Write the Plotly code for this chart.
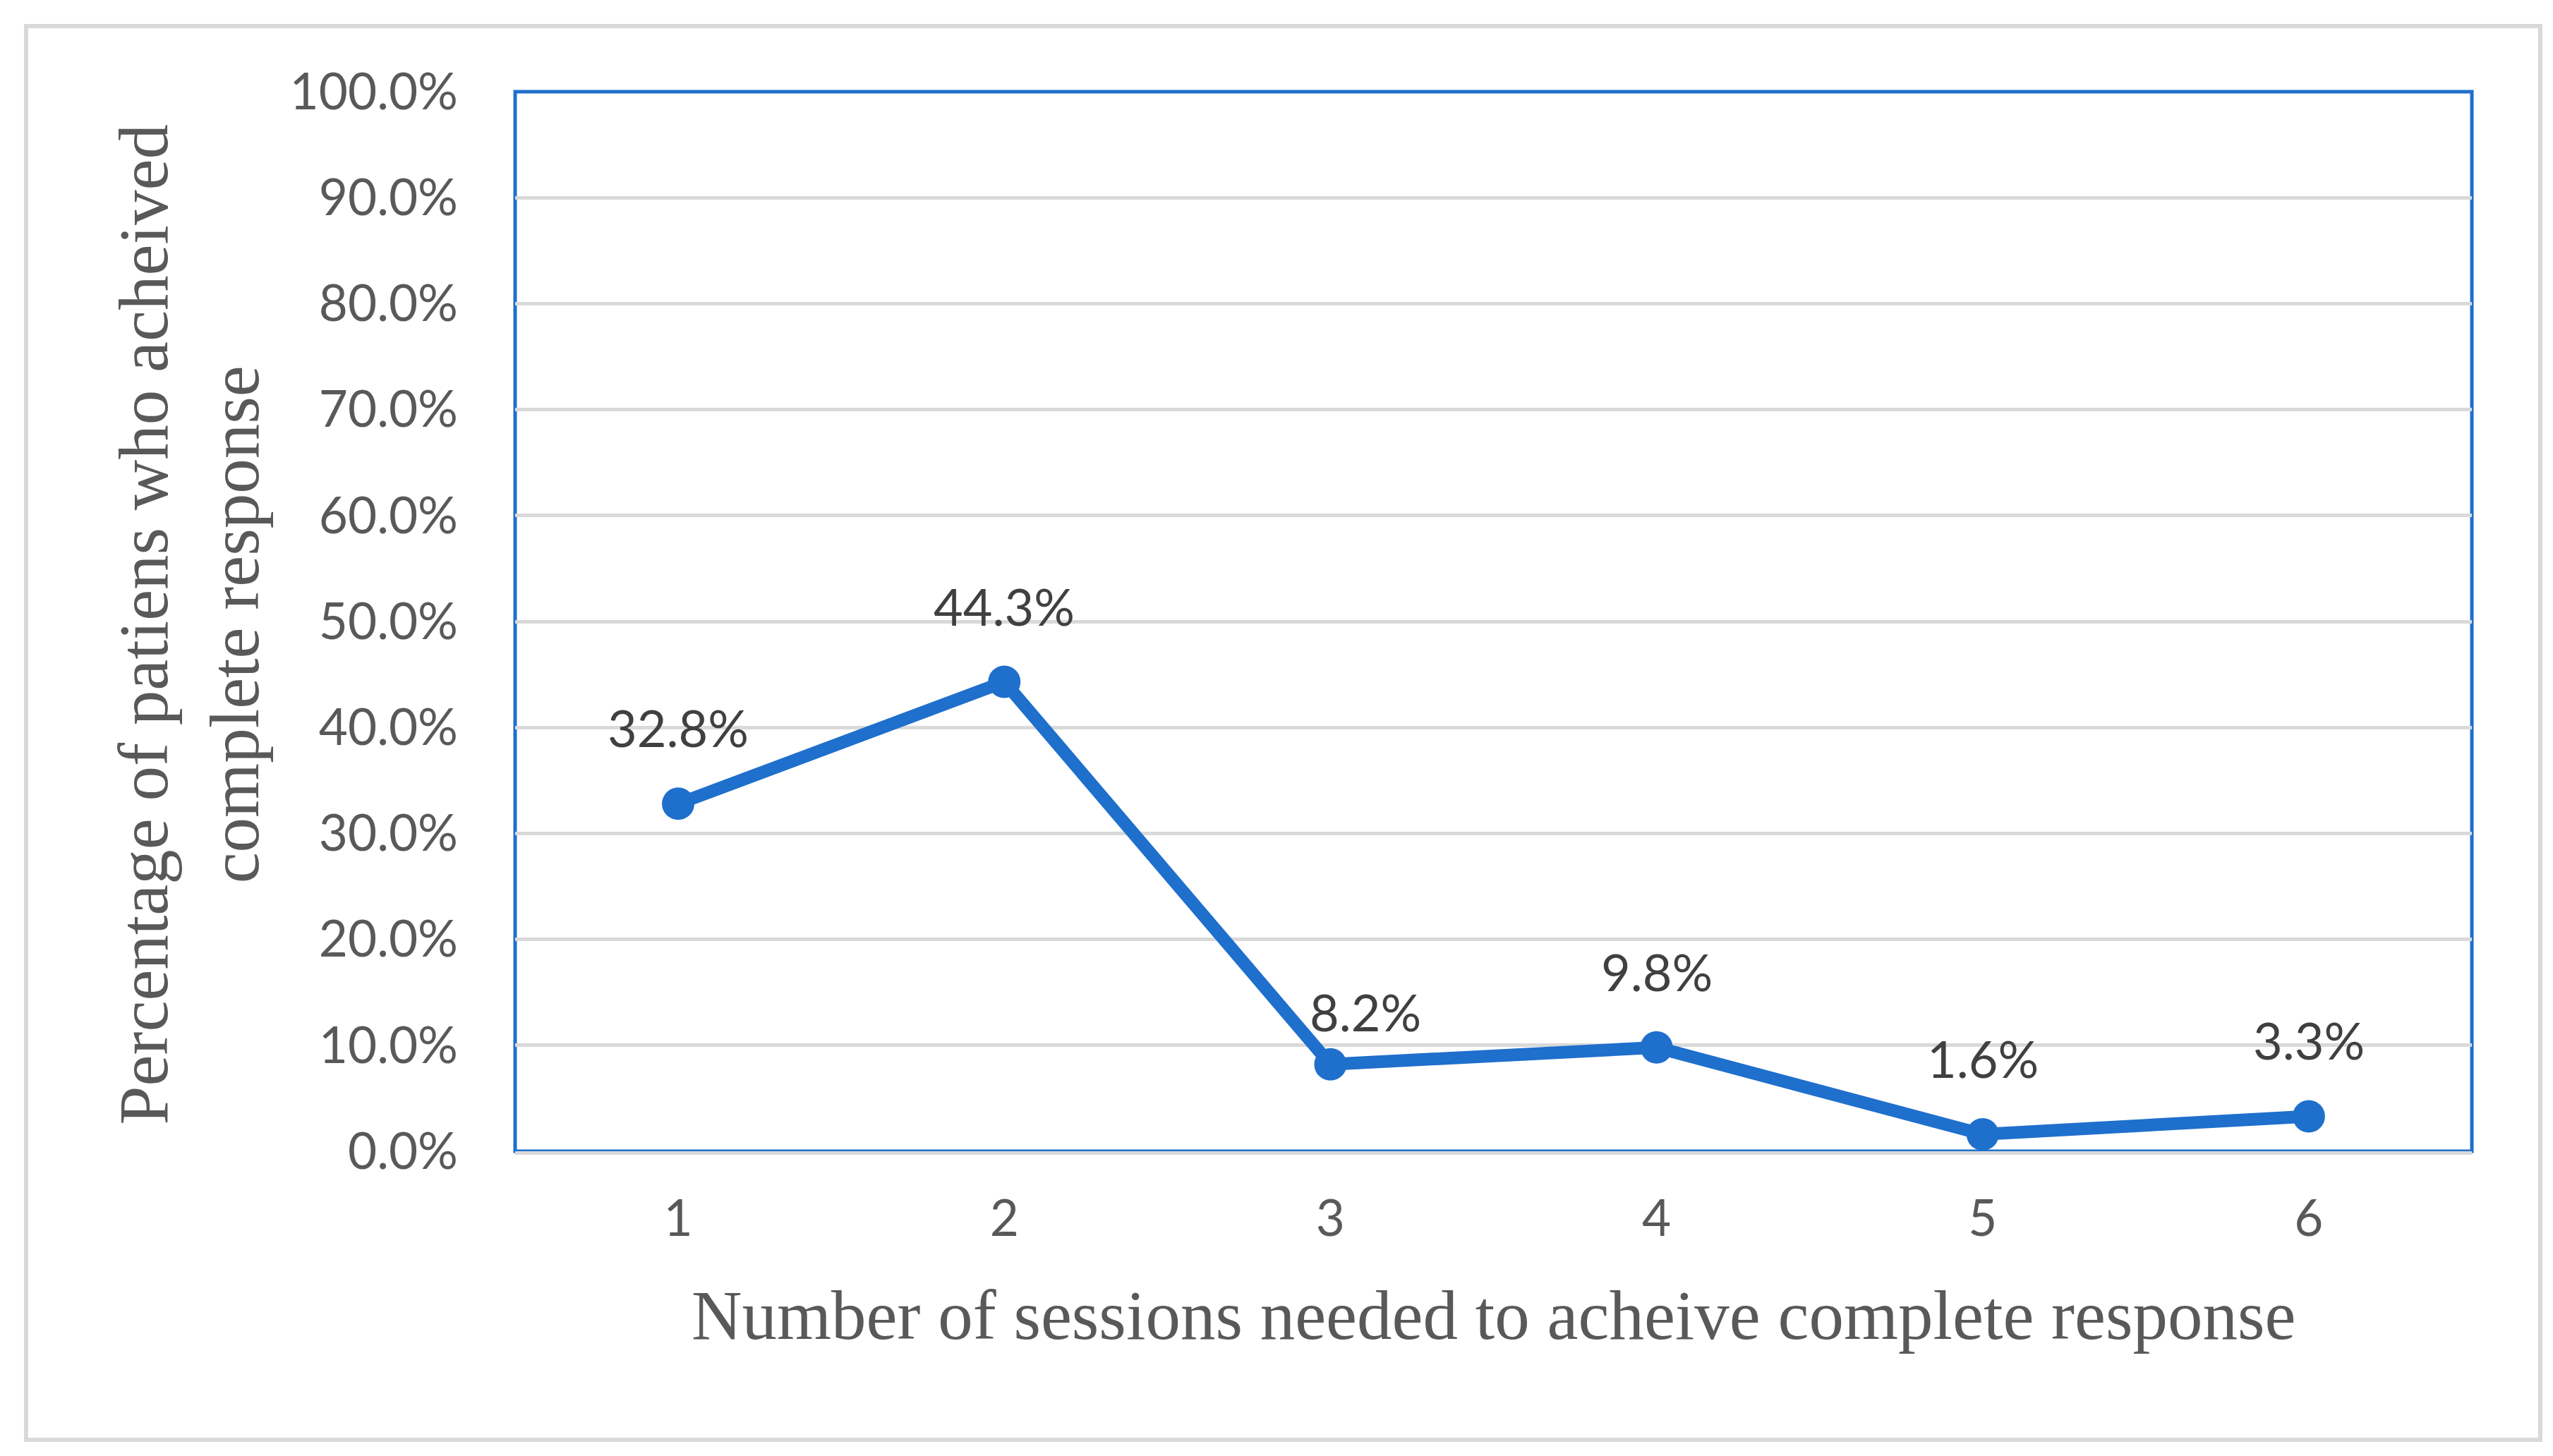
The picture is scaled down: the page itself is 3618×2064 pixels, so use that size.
import plotly.graph_objects as go

# ---- data ----
sessions = ["1", "2", "3", "4", "5", "6"]
percent_cr = [32.8, 44.3, 8.2, 9.8, 1.6, 3.3]
label_text = ["32.8%", "44.3%", "8.2%", "9.8%", "1.6%", "3.3%"]
y_tick_values = [0, 10, 20, 30, 40, 50, 60, 70, 80, 90, 100]
y_tick_labels = ["0.0%", "10.0%", "20.0%", "30.0%", "40.0%", "50.0%",
                 "60.0%", "70.0%", "80.0%", "90.0%", "100.0%"]
x_title = "Number of sessions needed to acheive complete response"
y_title = "Percentage of patiens who acheived<br>complete response"

# ---- style ----
W, H = 3618, 2064
L, R, T, B = 722, 123, 122, 440
BLUE = "#1f6fcc"
GRID = "#d9d9d9"
TICK_COLOR = "#595959"
LABEL_COLOR = "#404040"
SANS = "Lato, 'Open Sans', sans-serif"
SERIF = "'Liberation Serif', 'DejaVu Serif', serif"
label_nudge = {"3": (50, 75)}  # (xshift, yshift) per category; default below
default_nudge = (0, 108)

fig = go.Figure()
fig.add_trace(go.Scatter(
    x=sessions, y=percent_cr, mode="lines+markers",
    line=dict(color=BLUE, width=18),
    marker=dict(color=BLUE, size=46),
    hoverinfo="skip", showlegend=False, cliponaxis=False,
))

for idx, (cat, val, txt) in enumerate(zip(sessions, percent_cr, label_text)):
    xs, ys = label_nudge.get(cat, default_nudge)
    fig.add_annotation(x=idx, y=val, text=txt, showarrow=False,
                       xshift=xs, yshift=ys, xanchor="center", yanchor="middle",
                       font=dict(family=SANS, size=72, color=LABEL_COLOR))

plot_w = W - L - R
plot_h = H - T - B

# axis titles
fig.add_annotation(xref="paper", yref="paper", x=0.5, y=(1624 - 1856) / plot_h,
                   text=x_title, showarrow=False, xanchor="center", yanchor="middle",
                   font=dict(family=SERIF, size=99, color=TICK_COLOR))
fig.add_annotation(xref="paper", yref="paper", x=(260 - L) / plot_w, y=0.497,
                   text=y_title, showarrow=False, textangle=-90,
                   xanchor="center", yanchor="middle",
                   font=dict(family=SERIF, size=99, color=TICK_COLOR))

# plot-area border (blue) and outer chart border (gray)
fig.add_shape(type="rect", xref="paper", yref="paper", x0=0, y0=0, x1=1, y1=1,
              line=dict(color=BLUE, width=5), layer="below")
fig.add_shape(type="rect", xref="paper", yref="paper",
              x0=(29 - L) / plot_w, x1=(3592 - L) / plot_w,
              y0=(H - B - 2033) / plot_h, y1=(H - B - 29) / plot_h,
              line=dict(color=GRID, width=6), layer="below")

fig.update_layout(
    width=W, height=H,
    margin=dict(l=L, r=R, t=T, b=B, autoexpand=False),
    paper_bgcolor="white", plot_bgcolor="white",
    showlegend=False,
)
fig.update_xaxes(
    type="category", range=[-0.5, 5.5],
    showgrid=False, zeroline=False,
    showline=True, linecolor=GRID, linewidth=5,
    ticks="", ticklabelstandoff=30,
    tickfont=dict(family=SANS, size=71, color=TICK_COLOR),
)
fig.update_yaxes(
    range=[0, 100], tickvals=y_tick_values, ticktext=y_tick_labels,
    showgrid=True, gridcolor=GRID, gridwidth=5,
    zeroline=False, showline=False, ticks="", ticklabelstandoff=80,
    tickfont=dict(family=SANS, size=71, color=TICK_COLOR),
)

fig.write_html("out.html")
